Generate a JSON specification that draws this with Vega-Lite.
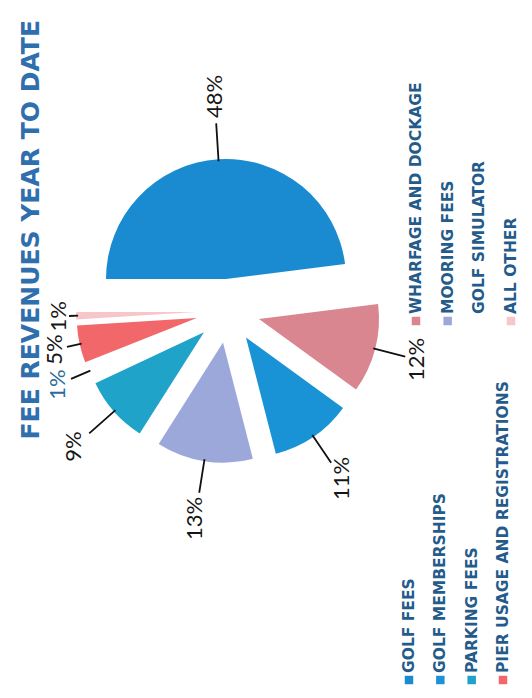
{
  "$schema": "https://vega.github.io/schema/vega-lite/v6.json",
  "autosize": "none",
  "width": 356,
  "height": 582,
  "padding": {"left": 50, "top": 20, "right": 126, "bottom": 96},
  "background": "#ffffff",
  "title": {
    "text": "FEE REVENUES YEAR TO DATE",
    "orient": "left",
    "anchor": "end",
    "offset": 0,
    "font": "DejaVu Sans",
    "fontSize": 25,
    "fontWeight": "bold",
    "color": "#2f6fae"
  },
  "data": {
    "values": [
      {"category": "GOLF FEES", "share": 0.48, "idx": 1},
      {"category": "WHARFAGE AND DOCKAGE", "share": 0.12, "idx": 2},
      {"category": "GOLF MEMBERSHIPS", "share": 0.11, "idx": 3},
      {"category": "MOORING FEES", "share": 0.13, "idx": 4},
      {"category": "PARKING FEES", "share": 0.09, "idx": 5},
      {"category": "GOLF SIMULATOR", "share": 0.01, "idx": 6},
      {"category": "PIER USAGE AND REGISTRATIONS", "share": 0.05, "idx": 7},
      {"category": "ALL OTHER", "share": 0.01, "idx": 8}
    ]
  },
  "transform": [
    {"stack": "share", "groupby": [], "sort": [{"field": "idx", "order": "ascending"}], "as": ["start", "end"]},
    {"calculate": "(datum.start + datum.end) / 2", "as": "mid"}
  ],
  "layer": [
    {
      "mark": {
        "type": "arc",
        "radius": 120,
        "xOffset": {"expr": "32 * sin(scale('theta', datum.mid))"},
        "yOffset": {"expr": "-32 * cos(scale('theta', datum.mid))"}
      },
      "encoding": {
        "theta": {
          "field": "start", "type": "quantitative",
          "scale": {"domain": [0, 1], "range": [4.712389, 10.995574]}
        },
        "theta2": {"field": "end"},
        "color": {
          "field": "category", "type": "nominal", "legend": null,
          "scale": {
            "domain": ["GOLF FEES", "GOLF MEMBERSHIPS", "PARKING FEES", "PIER USAGE AND REGISTRATIONS", "WHARFAGE AND DOCKAGE", "MOORING FEES", "GOLF SIMULATOR", "ALL OTHER"],
            "range": ["#1a8bd0", "#1a93d6", "#1fa3c9", "#f2676a", "#d98690", "#9ca8da", "#ffffff", "#f6c6cb"]
          }
        }
      }
    },
    {
      "mark": {"type": "arc", "filled": false, "stroke": "#111111", "strokeWidth": 1.8},
      "encoding": {
        "theta": {"field": "mid", "type": "quantitative"},
        "theta2": {"field": "mid"},
        "radius": {
          "field": "mid", "type": "quantitative",
          "scale": {"type": "linear", "zero": false, "nice": false,
                    "domain": [0, 0.24, 0.54, 0.775, 0.885, 0.935, 1],
                    "range": [188, 188, 183, 184, 185, 171, 158]}
        },
        "radius2": {"value": 150}
      }
    },
    {
      "mark": {"type": "text", "angle": 270, "align": "center", "baseline": "middle", "font": "Lato", "fontSize": 22},
      "encoding": {
        "theta": {"field": "mid", "type": "quantitative"},
        "radius": {
          "field": "mid", "type": "quantitative",
          "scale": {"type": "linear", "zero": false, "nice": false,
                    "domain": [0, 0.24, 0.54, 0.775, 0.885, 0.935, 1],
                    "range": [215, 215, 195, 210, 205, 185, 168]}
        },
        "text": {"field": "share", "type": "quantitative", "format": ".0%"},
        "color": {
          "condition": {"test": "datum.category === 'GOLF SIMULATOR'", "value": "#2c6c9c"},
          "value": "#161616"
        }
      }
    },
    {
      "transform": [{"filter": {"field": "category", "oneOf": ["GOLF FEES", "GOLF MEMBERSHIPS", "PARKING FEES", "PIER USAGE AND REGISTRATIONS"]}}],
      "encoding": {
        "x": {
          "field": "category", "type": "nominal", "axis": null,
          "scale": {"type": "point", "padding": 0, "domain": ["GOLF FEES", "GOLF MEMBERSHIPS", "PARKING FEES", "PIER USAGE AND REGISTRATIONS"], "range": [359, 453]}
        },
        "y": {"value": 660}
      },
      "layer": [
        {
          "mark": {"type": "square", "size": 72, "opacity": 1},
          "encoding": {"color": {"field": "category", "type": "nominal", "legend": null}}
        },
        {
          "mark": {"type": "text", "angle": 270, "align": "left", "baseline": "middle", "dx": 7, "font": "DejaVu Sans", "fontSize": 15.5, "fontWeight": "bold", "color": "#245b8a"},
          "encoding": {"text": {"field": "category"}}
        }
      ]
    },
    {
      "transform": [{"filter": {"field": "category", "oneOf": ["WHARFAGE AND DOCKAGE", "MOORING FEES", "GOLF SIMULATOR", "ALL OTHER"]}}],
      "encoding": {
        "x": {
          "field": "category", "type": "nominal", "axis": null,
          "scale": {"type": "point", "padding": 0, "domain": ["WHARFAGE AND DOCKAGE", "MOORING FEES", "GOLF SIMULATOR", "ALL OTHER"], "range": [366, 461]}
        },
        "y": {"value": 301}
      },
      "layer": [
        {
          "mark": {"type": "square", "size": 72, "opacity": 1},
          "encoding": {"color": {"field": "category", "type": "nominal", "legend": null}}
        },
        {
          "mark": {"type": "text", "angle": 270, "align": "left", "baseline": "middle", "dx": 7, "font": "DejaVu Sans", "fontSize": 15.5, "fontWeight": "bold", "color": "#245b8a"},
          "encoding": {"text": {"field": "category"}}
        }
      ]
    }
  ],
  "resolve": {"scale": {"x": "independent", "radius": "independent"}},
  "config": {"view": {"stroke": null}}
}
